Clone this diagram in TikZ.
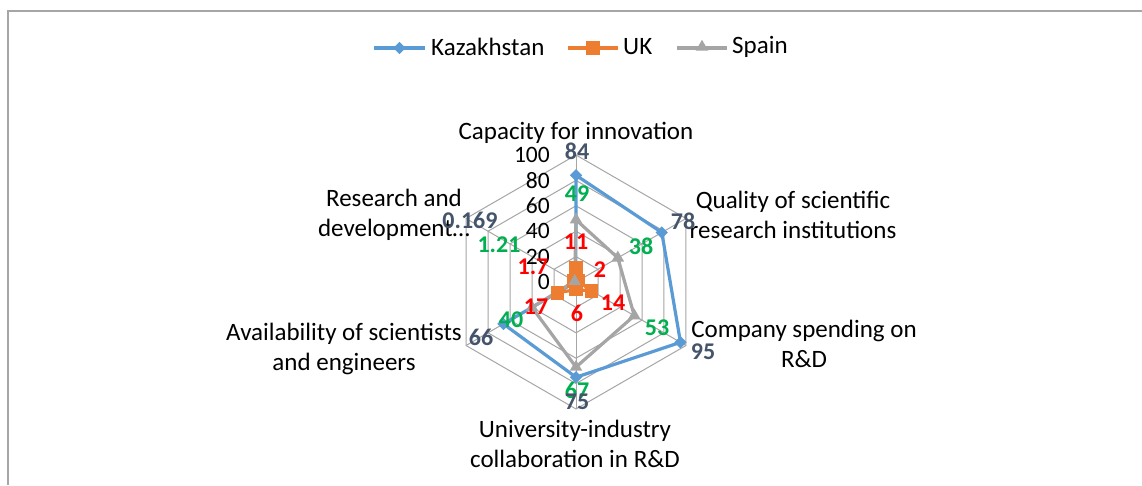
\documentclass[tikz,border=0pt]{standalone}
\usepackage{fontspec}
\setmainfont{Carlito}
\usetikzlibrary{shapes.geometric}
\definecolor{kazblue}{HTML}{5B9BD5}
\definecolor{ukorange}{HTML}{ED7D31}
\definecolor{spgray}{HTML}{A5A5A5}
\definecolor{gridgray}{HTML}{A6A6A6}
\definecolor{kazlab}{HTML}{44546A}
\definecolor{splab}{HTML}{00B050}
\definecolor{uklab}{HTML}{FF0000}
\tikzset{
  gridline/.style={draw=gridgray, line width=1pt},
  framel/.style={draw=gridgray, line width=1.5pt},
  kazline/.style={draw=kazblue, line width=3.2pt, line join=round},
  ukline/.style={draw=ukorange, line width=3.2pt, line join=round},
  spline/.style={draw=spgray, line width=3.2pt, line join=round},
  kazdia/.style={diamond, fill=kazblue, inner sep=0pt, minimum width=12.5pt, minimum height=12.5pt},
  uksq/.style={rectangle, fill=ukorange, inner sep=0pt, minimum size=13.5pt},
  sptri/.style={regular polygon, regular polygon sides=3, fill=spgray, inner sep=0pt, minimum size=14.5pt},
  catlab/.style={font=\fontsize{25}{30.5}\selectfont, align=center, inner sep=0pt},
  ticklab/.style={font=\fontsize{23.5}{28}\selectfont, anchor=east, inner sep=0pt},
  kazval/.style={font=\fontsize{24}{28}\selectfont\bfseries, text=kazlab, inner sep=0pt},
  spval/.style={font=\fontsize{24}{28}\selectfont\bfseries, text=splab, inner sep=0pt},
  ukval/.style={font=\fontsize{24}{28}\selectfont\bfseries, text=uklab, inner sep=0pt},
  legtext/.style={font=\fontsize{25}{30}\selectfont, anchor=west, inner sep=0pt},
}
\begin{document}
\begin{tikzpicture}[x=1pt, y=1pt]
\useasboundingbox (0,0) rectangle (1142,-485);
\fill[white] (0,0) rectangle (1142,-485);
% frame
\coordinate (frTR) at (1142,-11);
\coordinate (frTL) at (8,-11);
\coordinate (frBL) at (8,-485);
\draw[framel] (frTR) -- (frTL) -- (frBL);

% legend
\coordinate (lk1) at (374,-48); \coordinate (lk2) at (425,-48);
\draw[kazblue, line width=3.2pt] (lk1) -- (lk2);
\node[kazdia] (lkm) at (399.5,-48) {};
\node[legtext] (lkt) at (431,-47) {Kazakhstan};
\coordinate (lu1) at (568,-48); \coordinate (lu2) at (618,-48);
\draw[ukorange, line width=3.2pt] (lu1) -- (lu2);
\node[uksq] (lum) at (593,-48) {};
\node[legtext] (lut) at (623,-47) {UK};
\coordinate (ls1) at (677,-48); \coordinate (ls2) at (727,-48);
\draw[spgray, line width=3.2pt] (ls1) -- (ls2);
\node[sptri] (lsm) at (702,-47) {};
\node[legtext] (lst) at (732,-47) {Spain};

% radar
\begin{scope}[shift={(576,-282)}]
  \coordinate (O) at (0,0);
  \foreach \r in {25.4,50.8,76.2,101.6,127}
    \draw[gridline] (90:\r) -- (30:\r) -- (-30:\r) -- (-90:\r) -- (210:\r) -- (150:\r) -- cycle;
  \foreach \a in {90,30,-30,-90,210,150}
    \draw[gridline] (O) -- (\a:127);
  % Kazakhstan
  \coordinate (k1) at (90:84*1.27);
  \coordinate (k2) at (30:78*1.27);
  \coordinate (k3) at (-30:95*1.27);
  \coordinate (k4) at (-90:75*1.27);
  \coordinate (k5) at (210:66*1.27);
  \coordinate (k6) at (150:0.169*1.27);
  % UK
  \coordinate (u1) at (90:11*1.27);
  \coordinate (u2) at (30:2*1.27);
  \coordinate (u3) at (-30:14*1.27);
  \coordinate (u4) at (-90:6*1.27);
  \coordinate (u5) at (210:17*1.27);
  \coordinate (u6) at (150:1.7*1.27);
  % Spain
  \coordinate (s1) at (90:49*1.27);
  \coordinate (s2) at (30:38*1.27);
  \coordinate (s3) at (-30:53*1.27);
  \coordinate (s4) at (-90:67*1.27);
  \coordinate (s5) at (210:40*1.27);
  \coordinate (s6) at (150:1.21*1.27);
  \draw[kazline] (k1) -- (k2) -- (k3) -- (k4) -- (k5) -- (k6) -- cycle;
  \draw[ukline] (u1) -- (u2) -- (u3) -- (u4) -- (u5) -- (u6) -- cycle;
  \draw[spline] (s1) -- (s2) -- (s3) -- (s4) -- (s5) -- (s6) -- cycle;
  \foreach \i in {1,...,6} \node[kazdia] (km\i) at (k\i) {};
  \foreach \i in {1,...,6} \node[uksq] (um\i) at (u\i) {};
  \foreach \i in {1,...,6} \node[sptri] (sm\i) at (s\i) {};
\end{scope}

% tick labels
\node[ticklab] (t0) at (550,-282) {0};
\node[ticklab] (t20) at (550,-256.6) {20};
\node[ticklab] (t40) at (550,-231.2) {40};
\node[ticklab] (t60) at (550,-205.8) {60};
\node[ticklab] (t80) at (550,-180.4) {80};
\node[ticklab] (t100) at (550,-155) {100};

% category labels
\node[catlab] (c1) at (576,-133) {Capacity for innovation};
\node[catlab] (c2) at (793,-215) {Quality of scientific\\research institutions};
\node[catlab] (c3) at (804,-344) {Company spending on\\R\&D};
\node[catlab] (c4) at (575,-444) {University-industry\\collaboration in R\&D};
\node[catlab] (c5) at (344,-349) {Availability of scientists\\and engineers};
\node[catlab] (c6) at (394,-215) {Research and\\development…};

% data labels: Spain
\node[spval] (sv1) at (577,-194) {49};
\node[spval] (sv2) at (641,-246) {38};
\node[spval] (sv3) at (657,-328) {53};
\node[spval] (sv4) at (577,-390) {67};
\node[spval] (sv5) at (511,-320) {40};
\node[spval] (sv6) at (499,-245) {1.21};
% data labels: UK
\node[ukval] (uv1) at (576,-242) {11};
\node[ukval] (uv2) at (600,-270) {2};
\node[ukval] (uv3) at (613,-303) {14};
\node[ukval] (uv4) at (577,-313) {6};
\node[ukval] (uv5) at (536,-307) {17};
\node[ukval] (uv6) at (533,-267) {1.7};
% data labels: Kazakhstan
\node[kazval] (kv1) at (577,-151) {84};
\node[kazval] (kv2) at (683,-221) {78};
\node[kazval] (kv3) at (703,-352) {95};
\node[kazval] (kv4) at (577,-402) {75};
\node[kazval] (kv5) at (481,-337) {66};
\node[kazval] (kv6) at (470,-220) {0.169};
\end{tikzpicture}
\end{document}
